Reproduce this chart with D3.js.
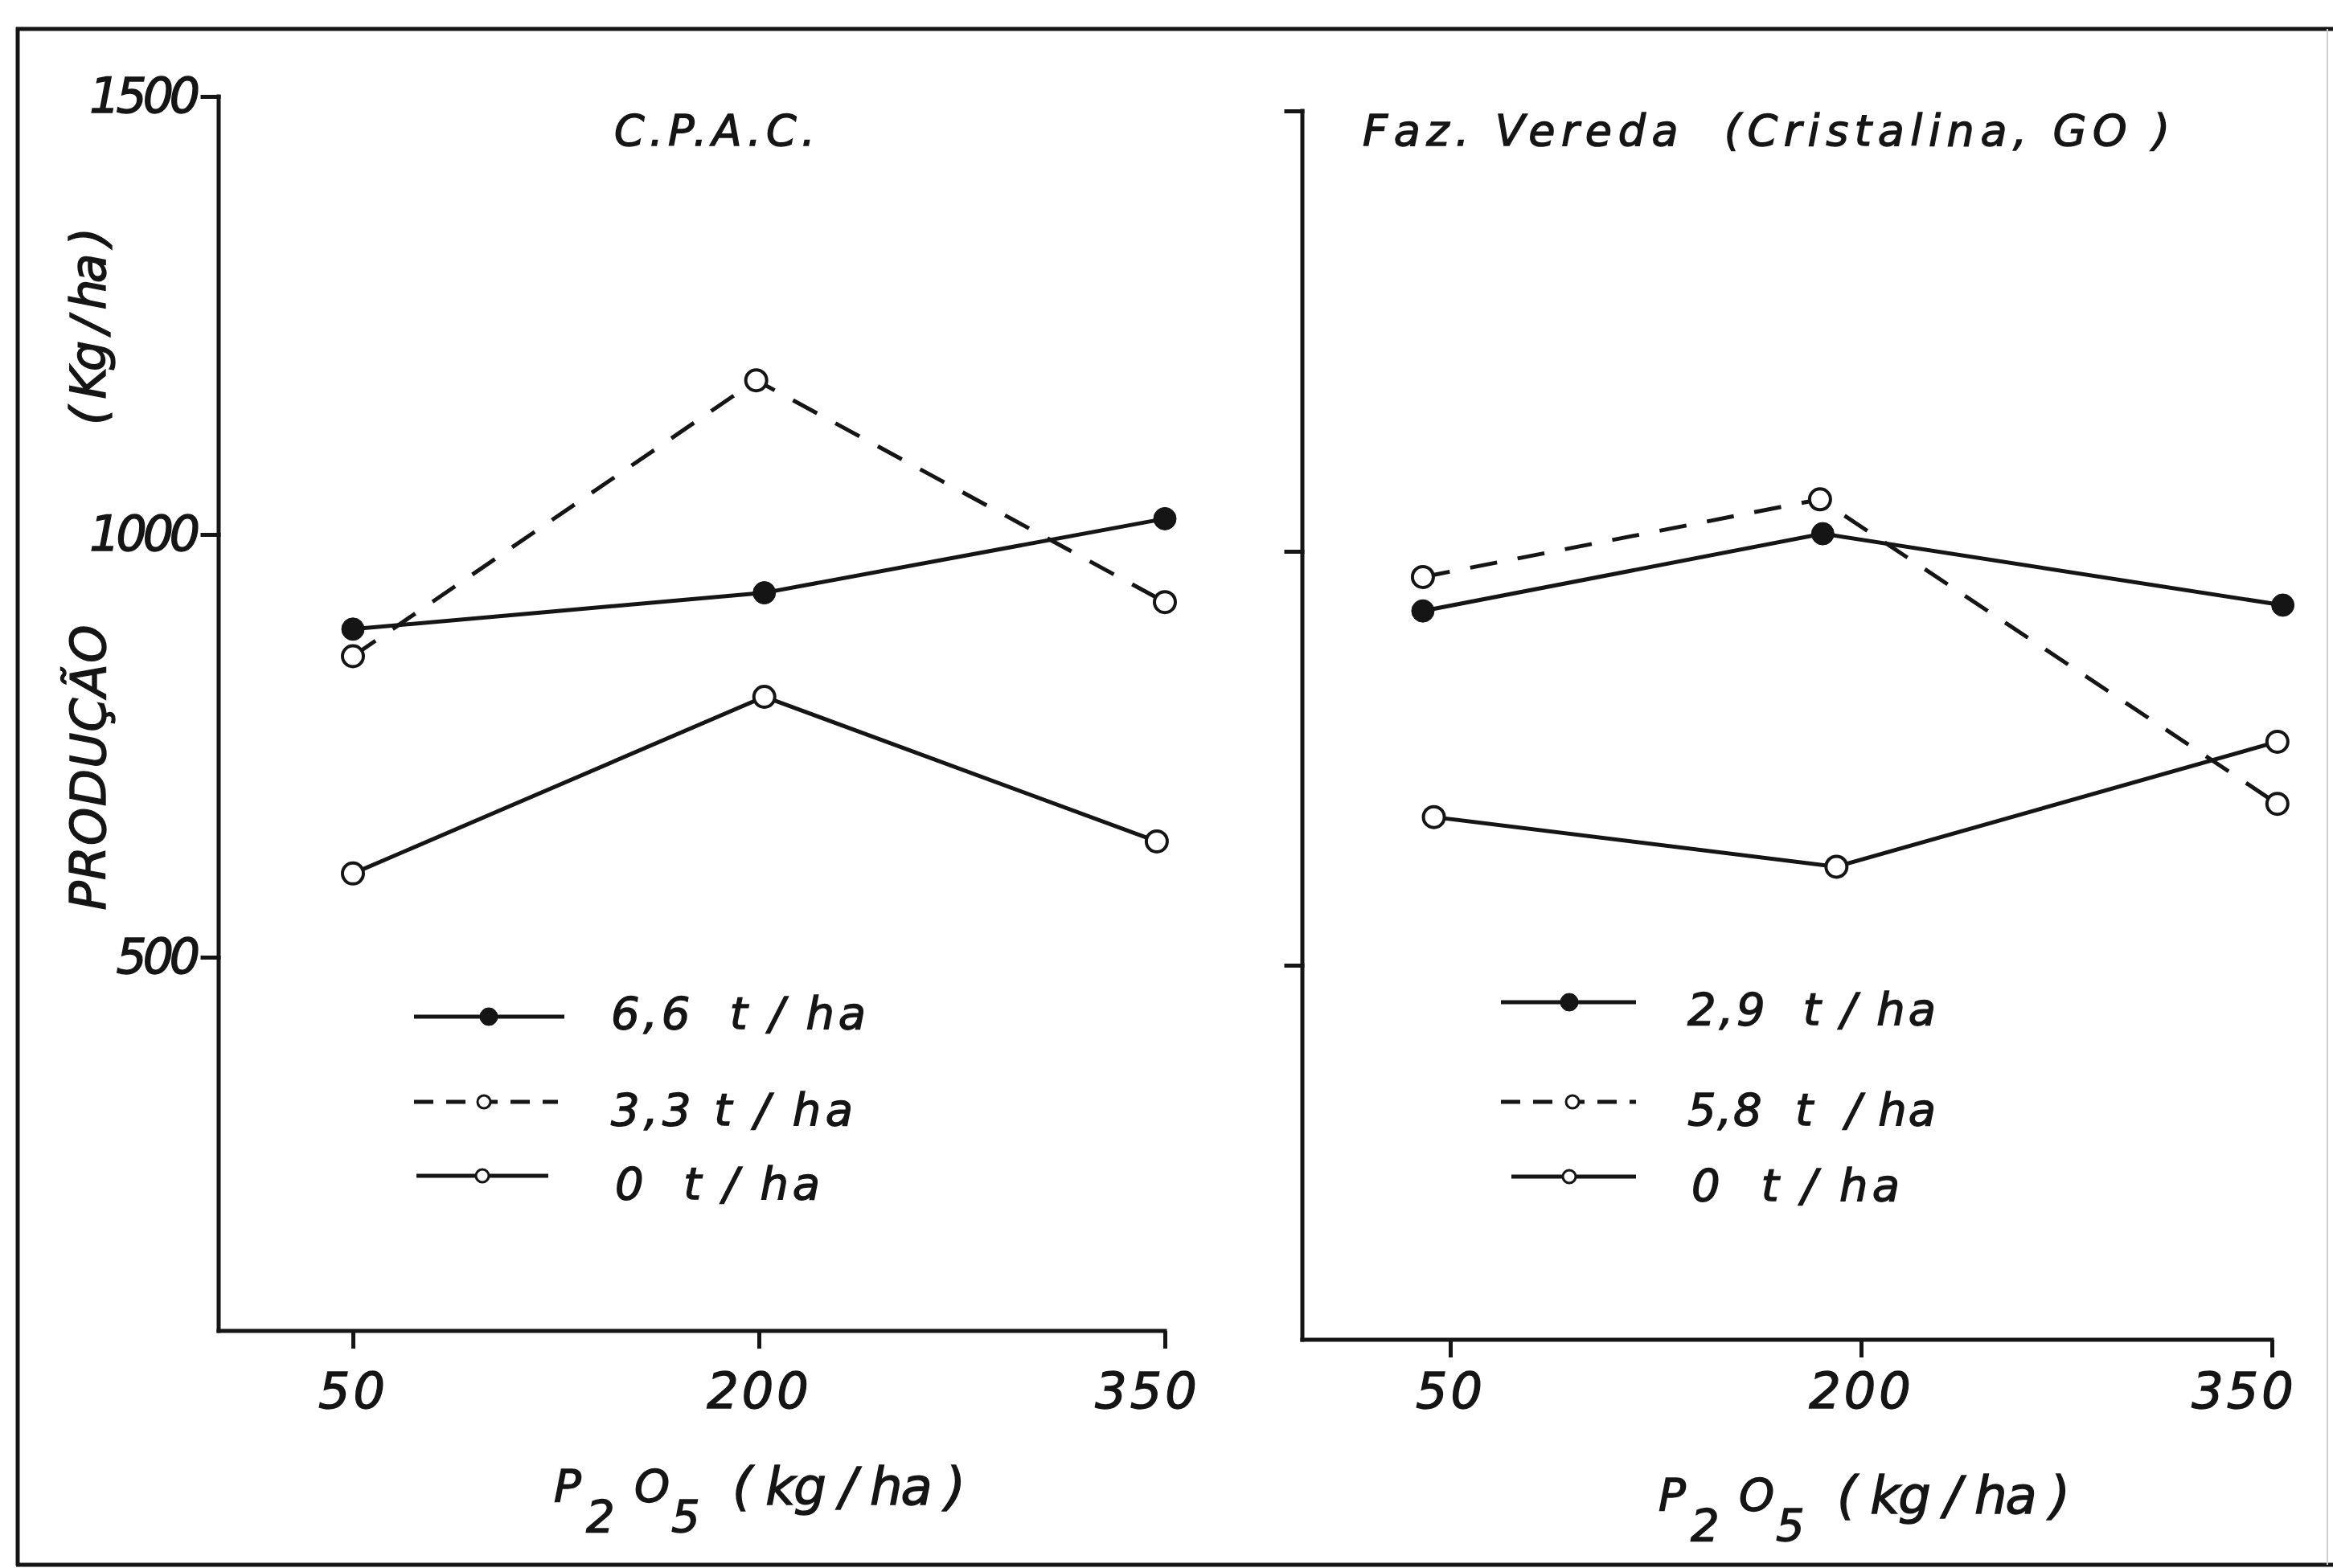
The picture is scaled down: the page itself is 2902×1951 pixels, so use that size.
<!DOCTYPE html>
<html>
<head>
<meta charset="utf-8">
<script src="https://cdn.jsdelivr.net/npm/d3@7"></script>
<style>
  html, body { margin: 0; padding: 0; background: #fff; }
  svg { display: block; }
  text { font-family: "DejaVu Sans", "Liberation Sans", sans-serif; font-style: italic; fill: #151515;
         stroke: #151515; stroke-width: 1.4px; }
</style>
</head>
<body>
<div id="chart"></div>
<script>
const W = 2902, H = 1951;
const ink = '#151515';

// axis ticks
const p2o5_ticks = [50, 200, 350];
const prod_ticks = [500, 1000, 1500];

// C.P.A.C.
const cpac_labels = ['6,6  t / ha', '3,3 t / ha', '0  t / ha'];
const cpac_x_66 = [50, 202, 350];
const cpac_y_66 = [888, 931, 1018];
const cpac_x_33 = [50, 199, 350];
const cpac_y_33 = [856, 1176, 920];
const cpac_x_0 = [50, 202, 347];
const cpac_y_0 = [599, 808, 637];

// Faz. Vereda (Cristalina, GO)
const vereda_labels = ['2,9  t / ha', '5,8  t  / ha', '0  t / ha'];
const vereda_x_29 = [40, 186, 354];
const vereda_y_29 = [928, 1020, 935];
const vereda_x_58 = [40, 185, 352];
const vereda_y_58 = [969, 1059, 695];
const vereda_x_0 = [44, 191, 352];
const vereda_y_0 = [679, 619, 770];

const svg = d3.select('#chart').append('svg')
    .attr('width', W)
    .attr('height', H);

svg.append('rect').attr('width', W).attr('height', H).attr('fill', '#fff');

// outer frame of the figure
const frame = svg.append('g').attr('stroke', ink).attr('stroke-width', 5);
frame.append('line').attr('x1', 20).attr('y1', 36).attr('x2', W).attr('y2', 36);
frame.append('line').attr('x1', 22).attr('y1', 34).attr('x2', 22).attr('y2', 1948);
frame.append('line').attr('x1', 20).attr('y1', 1947).attr('x2', W).attr('y2', 1947);
svg.append('line').attr('x1', 2895).attr('y1', 36).attr('x2', 2895).attr('y2', 1947)
    .attr('stroke', '#cfcfcf').attr('stroke-width', 2);

function zip(xs, ys) {
    return xs.map(function(v, i) { return [v, ys[i]]; });
}

const panels = [
    {
        title: 'C.P.A.C.', titleX: 764, titleW: 250,
        xRange: [439, 1449], yRange: [1191, 665, 120],
        axisX: 272, axisY: 1656, labels: true, xPad: 30,
        lastDx: -22,
        series: [
            { label: cpac_labels[0], data: zip(cpac_x_66, cpac_y_66), dash: null, filled: true },
            { label: cpac_labels[1], data: zip(cpac_x_33, cpac_y_33), dash: '34,26', filled: false },
            { label: cpac_labels[2], data: zip(cpac_x_0, cpac_y_0), dash: null, filled: false }
        ],
        legend: { x1: [515, 515, 518], x2: [702, 694, 682], mx: [608, 602, 600], y: [1265, 1371, 1463],
                  tx: [760, 760, 765], ty: [1280, 1400, 1492], tw: [317, 301, 255] },
        xTitleX: 689
    },
    {
        title: 'Faz. Vereda  (Cristalina, GO )', titleX: 1695, titleW: 1004,
        xRange: [1804, 2826], yRange: [1201, 686, 138],
        axisX: 1620, axisY: 1667, labels: false, xPad: 19,
        lastDx: -35,
        series: [
            { label: vereda_labels[0], data: zip(vereda_x_29, vereda_y_29), dash: null, filled: true },
            { label: vereda_labels[1], data: zip(vereda_x_58, vereda_y_58), dash: '34,26', filled: false },
            { label: vereda_labels[2], data: zip(vereda_x_0, vereda_y_0), dash: null, filled: false }
        ],
        legend: { x1: [1867, 1867, 1880], x2: [2035, 2035, 2035], mx: [1952, 1956, 1952], y: [1247, 1371, 1464],
                  tx: [2099, 2099, 2104], ty: [1275, 1400, 1494], tw: [309, 309, 259] },
        xTitleX: 2063
    }
];

panels.forEach(function(p) {
    const g = svg.append('g');
    const x = d3.scaleLinear().domain([50, 350]).range(p.xRange);
    const y = d3.scaleLinear().domain(prod_ticks).range(p.yRange);

    // panel title
    g.append('text')
        .attr('x', p.titleX).attr('y', 181)
        .attr('font-size', 54)
        .attr('textLength', p.titleW).attr('lengthAdjust', 'spacing')
        .style('white-space', 'pre')
        .text(p.title);

    // y axis
    const yAxis = g.append('g')
        .attr('transform', 'translate(' + p.axisX + ',0)')
        .call(d3.axisLeft(y).tickValues(prod_ticks).tickSize(20).tickPadding(8)
            .tickFormat(p.labels ? d3.format('d') : function() { return ''; }));
    yAxis.select('.domain').remove();
    yAxis.attr('font-family', null).attr('font-size', null);
    yAxis.selectAll('line').attr('stroke', ink).attr('stroke-width', 5).attr('stroke-linecap', 'square');
    yAxis.selectAll('text').attr('font-size', 60).attr('letter-spacing', -5).attr('fill', ink);
    g.append('line')
        .attr('x1', p.axisX).attr('x2', p.axisX)
        .attr('y1', y(1500)).attr('y2', p.axisY)
        .attr('stroke', ink).attr('stroke-width', 5).attr('stroke-linecap', 'square');

    // x axis
    const xAxis = g.append('g')
        .attr('transform', 'translate(0,' + p.axisY + ')')
        .call(d3.axisBottom(x).tickValues(p2o5_ticks).tickSize(22).tickPadding(p.xPad).tickFormat(d3.format('d')));
    xAxis.select('.domain').remove();
    xAxis.attr('font-family', null).attr('font-size', null);
    xAxis.selectAll('line').attr('stroke', ink).attr('stroke-width', 5);
    xAxis.selectAll('text').attr('font-size', 62).attr('letter-spacing', 4).attr('fill', ink)
        .attr('dx', function(d) { return d === 350 ? p.lastDx : 0; });
    g.append('line')
        .attr('x1', p.axisX).attr('x2', x(350))
        .attr('y1', p.axisY).attr('y2', p.axisY)
        .attr('stroke', ink).attr('stroke-width', 5).attr('stroke-linecap', 'square');

    // x axis title P2O5 (kg/ha)
    const t = g.append('g').attr('font-size', 56);
    const bx = p.xTitleX, by = p.axisY + 212;
    t.append('text').attr('x', bx).attr('y', by).text('P');
    t.append('text').attr('x', bx + 40).attr('y', by + 38).text('2');
    t.append('text').attr('x', bx + 100).attr('y', by).text('O');
    t.append('text').attr('x', bx + 146).attr('y', by + 38).text('5');
    t.append('text').attr('x', bx + 222).attr('y', by + 4)
        .attr('font-size', 64)
        .attr('textLength', 290).attr('lengthAdjust', 'spacing')
        .style('white-space', 'pre')
        .text('( kg / ha )');

    // series
    const line = d3.line().x(function(d) { return x(d[0]); }).y(function(d) { return y(d[1]); });
    p.series.forEach(function(s) {
        g.append('path')
            .attr('d', line(s.data))
            .attr('fill', 'none')
            .attr('stroke', ink)
            .attr('stroke-width', 5)
            .attr('stroke-dasharray', s.dash);
    });
    p.series.forEach(function(s) {
        g.selectAll(null)
            .data(s.data)
            .enter()
            .append('circle')
            .attr('cx', function(d) { return x(d[0]); })
            .attr('cy', function(d) { return y(d[1]); })
            .attr('r', s.filled ? 14 : 13)
            .attr('fill', s.filled ? ink : '#fff')
            .attr('stroke', ink)
            .attr('stroke-width', s.filled ? 1 : 4);
    });

    // legend
    const L = p.legend;
    p.series.forEach(function(s, i) {
        g.append('line')
            .attr('x1', L.x1[i]).attr('x2', L.x2[i])
            .attr('y1', L.y[i]).attr('y2', L.y[i])
            .attr('stroke', ink).attr('stroke-width', 5)
            .attr('stroke-dasharray', s.dash ? '24,16' : null);
        g.append('circle')
            .attr('cx', L.mx[i]).attr('cy', L.y[i])
            .attr('r', s.filled ? 11 : 8)
            .attr('fill', s.filled ? ink : '#fff')
            .attr('stroke', ink)
            .attr('stroke-width', s.filled ? 1 : 3);
        g.append('text')
            .attr('x', L.tx[i]).attr('y', L.ty[i])
            .attr('font-size', 56)
            .attr('textLength', L.tw[i]).attr('lengthAdjust', 'spacing')
            .style('white-space', 'pre')
            .text(s.label);
    });
});

// y axis title (left panel only)
svg.append('text')
    .attr('transform', 'translate(131,955) rotate(-90)')
    .attr('text-anchor', 'middle')
    .attr('font-size', 60)
    .attr('textLength', 355).attr('lengthAdjust', 'spacing')
    .text('PRODUÇÃO');
svg.append('text')
    .attr('transform', 'translate(131,406) rotate(-90)')
    .attr('text-anchor', 'middle')
    .attr('font-size', 60)
    .attr('textLength', 246).attr('lengthAdjust', 'spacing')
    .style('white-space', 'pre')
    .text('( Kg / ha )');
</script>
</body>
</html>
